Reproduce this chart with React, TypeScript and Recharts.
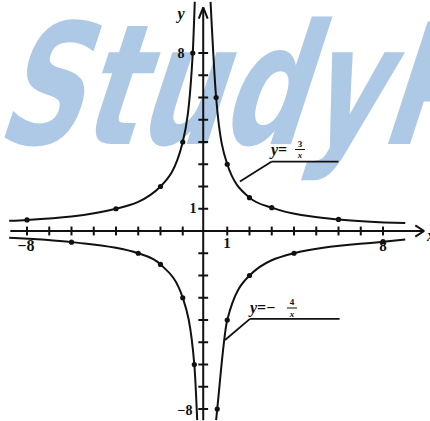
import { ComposedChart, Line, Scatter, XAxis, YAxis, ReferenceLine } from 'recharts';

// hyperbola branches (dots are the plotted points)
const upperLeftDots = [
  { x: -8, y: 0.5 }, { x: -4, y: 1 }, { x: -2, y: 2 }, { x: -1, y: 4 }, { x: -0.55, y: 8 },
];
const upperRightDots = [
  { x: 0.5, y: 6 }, { x: 1, y: 3 }, { x: 2, y: 1.5 }, { x: 3, y: 1.05 }, { x: 6, y: 0.52 },
];
const lowerLeftDots = [
  { x: -6, y: -0.5 }, { x: -3, y: -1 }, { x: -2, y: -1.5 }, { x: -1, y: -3 }, { x: -0.48, y: -6 },
];
const lowerRightDots = [
  { x: 0.55, y: -8 }, { x: 1, y: -4 }, { x: 2, y: -2 }, { x: 4, y: -1 }, { x: 8, y: -0.48 },
];

const upperLeftCurve = [{ x: -8.8, y: 0.46 }, ...upperLeftDots, { x: -0.46, y: 10.3 }];
const upperRightCurve = [{ x: 0.25, y: 10.3 }, ...upperRightDots, { x: 9, y: 0.36 }];
const lowerLeftCurve = [{ x: -8.8, y: -0.3 }, ...lowerLeftDots, { x: -0.35, y: -8.5 }];
const lowerRightCurve = [{ x: 0.5, y: -8.5 }, ...lowerRightDots, { x: 9, y: -0.38 }];

const xTicks = [-8, -7, -6, -5, -4, -3, -2, -1, 1, 2, 3, 4, 5, 6, 7, 8];
const yTicks = [-8, -7, -6, -5, -4, -3, -2, -1, 1, 2, 3, 4, 5, 6, 7, 8];

const ink = '#111';

const Dot = (p: any) => <circle cx={p.cx} cy={p.cy} r={2.6} fill={ink} />;

export default function App() {
  const serif = '"Liberation Serif", "DejaVu Serif", serif';
  return (
    <div style={{ position: 'absolute', left: 0, top: 0, width: 430, height: 421, background: '#fff', overflow: 'hidden' }}>
      {/* watermark, under the drawing */}
      <svg width={430} height={421} style={{ position: 'absolute', left: 0, top: 0 }}>
        <g transform="skewX(-18)">
          <text
            x={40}
            y={144}
            fontFamily='"DejaVu Sans", sans-serif'
            fontWeight="bold"
            fontSize={168}
            fill="#aec9e6"
            textLength={470}
            lengthAdjust="spacingAndGlyphs"
          >
            StudyP
          </text>
        </g>
      </svg>

      <div style={{ position: 'absolute', left: 0, top: 0 }}>
        <ComposedChart width={430} height={421} margin={{ top: 0, right: 0, bottom: 0, left: 0 }}>
          <XAxis type="number" dataKey="x" domain={[-9.213, 10.112]} hide allowDataOverflow />
          <YAxis type="number" dataKey="y" domain={[-8.539, 10.382]} hide allowDataOverflow />

          {/* axes */}
          <ReferenceLine segment={[{ x: -8.75, y: 0 }, { x: 9.85, y: 0 }]} stroke={ink} strokeWidth={2} />
          <ReferenceLine segment={[{ x: 9.45, y: 0.25 }, { x: 9.85, y: 0 }]} stroke={ink} strokeWidth={2} />
          <ReferenceLine segment={[{ x: 9.45, y: -0.25 }, { x: 9.85, y: 0 }]} stroke={ink} strokeWidth={2} />
          <ReferenceLine segment={[{ x: -0.08, y: -8.5 }, { x: -0.08, y: 10.05 }]} stroke={ink} strokeWidth={2} ifOverflow="visible" />
          <ReferenceLine segment={[{ x: -0.28, y: 9.55 }, { x: -0.08, y: 10.05 }]} stroke={ink} strokeWidth={2} />
          <ReferenceLine segment={[{ x: 0.12, y: 9.55 }, { x: -0.08, y: 10.05 }]} stroke={ink} strokeWidth={2} />
          {xTicks.map((t) => (
            <ReferenceLine key={'xt' + t} segment={[{ x: t, y: -0.2 }, { x: t, y: 0.2 }]} stroke={ink} strokeWidth={2} />
          ))}
          {yTicks.map((t) => (
            <ReferenceLine key={'yt' + t} segment={[{ x: -0.3, y: t }, { x: 0.14, y: t }]} stroke={ink} strokeWidth={2} />
          ))}

          {/* leader lines to the labels */}
          <ReferenceLine segment={[{ x: 1.57, y: 2.22 }, { x: 3.0, y: 3.12 }]} stroke={ink} strokeWidth={1.8} />
          <ReferenceLine segment={[{ x: 3.0, y: 3.12 }, { x: 6.0, y: 3.12 }]} stroke={ink} strokeWidth={1.8} />
          <ReferenceLine segment={[{ x: 0.9, y: -4.9 }, { x: 2.02, y: -3.95 }]} stroke={ink} strokeWidth={1.8} />
          <ReferenceLine segment={[{ x: 2.02, y: -3.95 }, { x: 6.05, y: -3.95 }]} stroke={ink} strokeWidth={1.8} />

          <Line data={upperLeftCurve} dataKey="y" type="monotone" stroke={ink} strokeWidth={2} dot={false} isAnimationActive={false} />
          <Line data={upperRightCurve} dataKey="y" type="monotone" stroke={ink} strokeWidth={2} dot={false} isAnimationActive={false} />
          <Line data={lowerLeftCurve} dataKey="y" type="monotone" stroke={ink} strokeWidth={2} dot={false} isAnimationActive={false} />
          <Line data={lowerRightCurve} dataKey="y" type="monotone" stroke={ink} strokeWidth={2} dot={false} isAnimationActive={false} />

          <Scatter data={upperLeftDots} shape={Dot} isAnimationActive={false} />
          <Scatter data={upperRightDots} shape={Dot} isAnimationActive={false} />
          <Scatter data={lowerLeftDots} shape={Dot} isAnimationActive={false} />
          <Scatter data={lowerRightDots} shape={Dot} isAnimationActive={false} />
        </ComposedChart>
      </div>

      {/* text labels */}
      <svg width={430} height={421} style={{ position: 'absolute', left: 0, top: 0 }} fontFamily={serif} fontWeight="bold" fill={ink}>
        <text x={181} y={19} fontStyle="italic" fontSize={16} textAnchor="middle">y</text>
        <text x={427} y={241} fontStyle="italic" fontSize={16}>x</text>
        <text x={181} y={58} fontSize={14} textAnchor="middle">8</text>
        <text x={193} y={213} fontSize={14} textAnchor="middle">1</text>
        <text x={185} y={415} fontSize={14} textAnchor="middle">−8</text>
        <text x={26} y={251} fontSize={16} textAnchor="middle">−8</text>
        <text x={227} y={248} fontSize={15} textAnchor="middle">1</text>
        <text x={383} y={251} fontSize={15} textAnchor="middle">8</text>

        <text x={271} y={155} fontSize={16}><tspan fontStyle="italic">y</tspan>=</text>
        <text x={300} y={147} fontSize={9} textAnchor="middle">3</text>
        <line x1={295} y1={149.5} x2={305} y2={149.5} stroke={ink} strokeWidth={1} />
        <text x={300} y={158} fontSize={9} fontStyle="italic" textAnchor="middle">x</text>

        <text x={250} y={313} fontSize={16}><tspan fontStyle="italic">y</tspan>=−</text>
        <text x={292} y={305} fontSize={9} textAnchor="middle">4</text>
        <line x1={287} y1={308} x2={297} y2={308} stroke={ink} strokeWidth={1} />
        <text x={292} y={317} fontSize={9} fontStyle="italic" textAnchor="middle">x</text>
      </svg>
    </div>
  );
}
